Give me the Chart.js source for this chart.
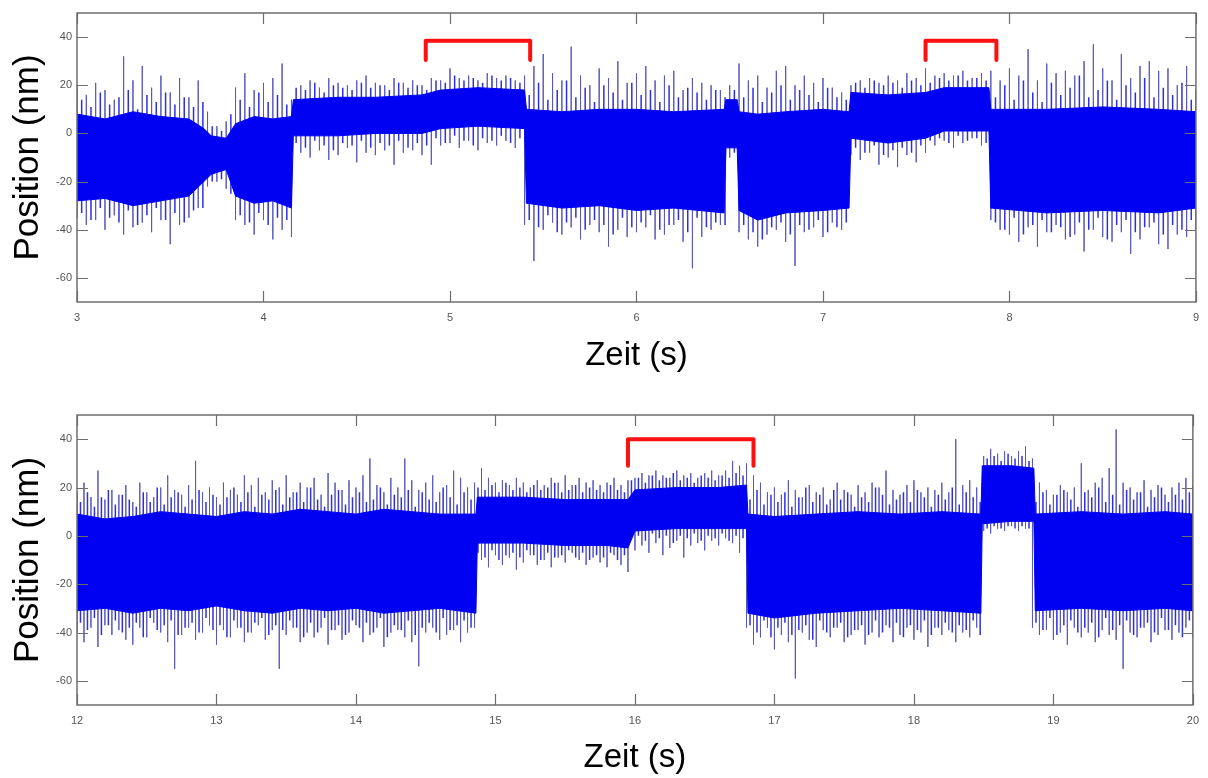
<!DOCTYPE html>
<html>
<head>
<meta charset="utf-8">
<script src="https://cdn.jsdelivr.net/npm/chart.js@4.4.1/dist/chart.umd.min.js"></script>
<style>
  html, body { margin: 0; padding: 0; background: #fff; }
  #wrap { position: relative; width: 1208px; height: 778px; overflow: hidden; }
  #top { position: absolute; left: 0; top: 0; }
  #bottom { position: absolute; left: 0; top: 390px; }
</style>
</head>
<body>
<div id="wrap">
  <canvas id="top" width="1208" height="390"></canvas>
  <canvas id="bottom" width="1208" height="388"></canvas>
</div>
<script>
// ---- shared axis ticks ----
var yTickValues = [-60, -40, -20, 0, 20, 40];
var topXTicks = [3, 4, 5, 6, 7, 8, 9];
var bottomXTicks = [12, 13, 14, 15, 16, 17, 18, 19, 20];

// ---- top trace (3 s .. 9 s) ----
// dense core band: time, upper and lower edge (nm)
var topCoreT  = [3.00, 3.15, 3.30, 3.45, 3.60, 3.68, 3.72, 3.80, 3.85, 3.95, 4.05, 4.15, 4.16, 4.40, 4.60, 4.85, 4.95, 5.15, 5.40, 5.41, 5.60, 5.80, 6.00, 6.20, 6.47, 6.48, 6.54, 6.55, 6.65, 6.80, 7.00, 7.14, 7.15, 7.35, 7.55, 7.65, 7.89, 7.90, 8.20, 8.50, 8.80, 9.00];
var topCoreHi = [8, 6, 9, 7, 6, 2, -1, -2, 4, 7, 6, 7, 14, 15, 15, 16, 18, 19, 18, 10, 9, 10, 10, 9, 10, 14, 14, 9, 8, 9, 10, 9, 17, 16, 17, 19, 19, 10, 10, 11, 10, 9];
var topCoreLo = [-28, -27, -30, -28, -26, -20, -17, -15, -26, -29, -28, -31, -1, -1, 0, 0, 2, 3, 2, -29, -31, -30, -32, -31, -33, -6, -6, -32, -36, -33, -32, -31, -2, -4, -2, 1, 1, -31, -33, -32, -33, -31];
// outer spike extremes, one pair every 0.05 s from 3.00 s
var topSpikeStart = 3.0;
var topSpikeHi = [20, 16, 21, 18, 14, 32, 22, 28, 19, 24, 17, 23, 15, 22, 9, 3, 5, 19, 25, 18,
                  21, 23, 29, 14, 20, 22, 19, 23, 21, 20, 22, 24, 21, 20, 23, 21, 22, 20, 23, 22,
                  27, 23, 24, 22, 25, 23, 24, 22, 24, 28, 33, 25, 22, 36, 24, 20, 27, 23, 30, 21,
                  25, 28, 22, 24, 26, 18, 23, 21, 20, 18, 20, 29, 22, 24, 19, 26, 28, 20, 24, 21,
                  23, 19, 17, 20, 22, 23, 21, 24, 22, 25, 23, 27, 24, 25, 24, 26, 23, 25, 26, 22,
                  27, 24, 35, 22, 29, 25, 26, 24, 30, 37, 27, 22, 33, 23, 28, 30, 26, 27, 20, 28, 18];
var topSpikeLo = [-35, -38, -36, -40, -34, -42, -39, -37, -41, -36, -46, -38, -35, -31, -22, -20, -23, -36, -38, -42,
                  -36, -44, -40, -43, -8, -10, -7, -11, -9, -6, -12, -8, -9, -7, -13, -8, -7, -9, -13, -5,
                  -4, -6, -3, -7, -4, -5, -3, -6, -38, -53, -40, -37, -42, -39, -44, -38, -41, -47, -40, -43,
                  -41, -39, -44, -42, -38, -45, -56, -43, -40, -38, -10, -41, -44, -47, -42, -40, -45, -55, -41, -39,
                  -43, -37, -40, -9, -11, -8, -13, -10, -14, -9, -12, -8, -5, -3, -6, -4, -2, -5, -36, -40,
                  -42, -45, -39, -47, -41, -38, -44, -42, -49, -40, -43, -45, -41, -50, -44, -39, -46, -48, -42, -43, -40];
// smaller excursions just outside the core, every 0.05 s from 3.025 s
var topMidStart = 3.025;
var topMidHi = [14, 11, 17, 12, 15, 18, 10, 16, 13, 17, 12, 15, 11, 13, 3, 1, 8, 14, 11, 17,
                13, 16, 12, 19, 18, 21, 17, 20, 19, 18, 21, 19, 20, 18, 21, 19, 20, 18, 22, 21,
                24, 22, 23, 21, 24, 22, 23, 21, 16, 21, 14, 18, 22, 15, 19, 13, 20, 17, 14, 21,
                16, 18, 13, 20, 15, 19, 17, 14, 18, 15, 18, 15, 19, 13, 17, 20, 14, 18, 16, 13,
                19, 15, 14, 21, 19, 22, 20, 21, 19, 22, 20, 21, 23, 22, 24, 22, 23, 22, 15, 20,
                14, 22, 17, 13, 21, 16, 19, 24, 15, 18, 22, 14, 20, 17, 23, 15, 19, 16, 21, 14];
var topMidLo = [-33, -36, -31, -35, -37, -32, -38, -34, -31, -36, -33, -37, -32, -31, -20, -19, -25, -34, -37, -33,
                -38, -35, -36, -4, -6, -3, -5, -7, -4, -5, -3, -6, -4, -5, -3, -6, -4, -5, -2, -4,
                -1, -3, -5, -2, -3, -1, -4, -2, -36, -39, -34, -41, -37, -35, -40, -36, -38, -42, -35, -39,
                -37, -34, -40, -38, -36, -41, -35, -39, -37, -38, -8, -38, -41, -44, -39, -37, -42, -38, -40, -36,
                -41, -39, -37, -6, -8, -5, -9, -7, -6, -8, -5, -3, -2, -4, -1, -3, -2, -4, -37, -40,
                -35, -42, -38, -36, -41, -39, -43, -37, -40, -35, -44, -38, -36, -41, -39, -37, -42, -38, -40, -36];
var topBrackets = [[4.87, 5.43], [7.55, 7.93]];
var topBracketY = [38.5, 30.5];

// ---- bottom trace (12 s .. 20 s) ----
var botCoreT  = [12.0, 12.2, 12.4, 12.6, 12.8, 13.0, 13.2, 13.4, 13.6, 13.8, 14.0, 14.2, 14.4, 14.6, 14.86, 14.87, 15.2, 15.5, 15.8, 15.95, 16.0, 16.3, 16.6, 16.80, 16.81, 17.0, 17.3, 17.6, 17.9, 18.2, 18.48, 18.49, 18.7, 18.86, 18.87, 19.2, 19.5, 19.8, 20.0];
var botCoreHi = [9, 7, 8, 10, 9, 8, 10, 9, 11, 10, 9, 11, 10, 9, 9, 16, 16, 15, 15, 15, 19, 20, 20, 21, 9, 8, 9, 10, 9, 10, 9, 29, 29, 28, 9, 10, 9, 10, 9];
var botCoreLo = [-31, -30, -32, -30, -31, -29, -31, -32, -30, -31, -30, -32, -31, -30, -32, -3, -3, -4, -4, -5, 2, 3, 3, 3, -32, -34, -32, -31, -30, -31, -32, 5, 6, 6, -31, -30, -31, -30, -31];
var botSpikeStart = 12.0;
var botSpikeHi = [18, 22, 16, 27, 15, 19, 17, 21, 14, 22, 18, 16, 20, 25, 19, 17, 21, 31, 18, 20,
                  16, 22, 19, 17, 25, 21, 24, 18, 23, 20, 25, 18, 22, 20, 24, 17, 26, 22, 19, 23,
                  20, 25, 32, 21, 18, 24, 20, 32, 23, 19, 22, 25, 18, 21, 27, 24, 20, 22, 28, 24,
                  22, 23, 21, 24, 22, 20, 23, 21, 24, 22, 25, 21, 24, 22, 23, 21, 22, 24, 21, 23,
                  24, 26, 25, 27, 25, 24, 27, 25, 26, 24, 26, 27, 25, 27, 31, 29, 30, 25, 22, 18,
                  20, 17, 23, 19, 16, 21, 18, 20, 15, 22, 19, 17, 21, 18, 22, 20, 27, 19, 17, 21,
                  23, 18, 20, 19, 22, 18, 40, 21, 23, 20, 33, 36, 34, 35, 33, 35, 37, 32, 22, 19,
                  17, 21, 18, 20, 30, 19, 22, 24, 28, 44, 22, 20, 18, 23, 19, 21, 17, 20, 22, 24, 21];
var botSpikeLo = [-40, -44, -38, -46, -37, -41, -39, -43, -45, -38, -42, -36, -40, -44, -55, -41, -38, -43, -40, -37,
                  -45, -39, -42, -38, -44, -40, -37, -43, -39, -55, -41, -38, -44, -40, -42, -38, -45, -39, -43, -40,
                  -37, -44, -41, -38, -46, -40, -39, -42, -44, -54, -40, -38, -43, -41, -39, -44, -40, -38, -10, -13,
                  -8, -12, -9, -14, -11, -8, -12, -10, -13, -9, -11, -7, -10, -12, -9, -11, -13, -8, -12, -15,
                  -6, -4, -7, -3, -8, -5, -2, -9, -4, -3, -6, -2, -4, -1, -3, -7, -38, -45, -42, -38,
                  -47, -41, -44, -59, -40, -43, -46, -39, -42, -38, -44, -41, -39, -45, -40, -42, -37, -44, -41, -38,
                  -43, -40, -46, -38, -41, -39, -44, -40, -42, -38, 2, 1, 3, 2, 4, 2, 3, -38, -41, -39,
                  -43, -40, -45, -38, -42, -40, -44, -39, -41, -43, -55, -40, -42, -38, -44, -41, -39, -43, -40, -38, -42];
var botMidStart = 12.025;
var botMidHi = [14, 18, 12, 16, 19, 13, 17, 15, 12, 18, 14, 20, 13, 16, 18, 12, 15, 19, 14, 17,
                13, 16, 20, 14, 18, 12, 17, 15, 19, 13, 16, 18, 14, 20, 15, 12, 17, 19, 13, 16,
                18, 14, 15, 20, 13, 17, 16, 19, 12, 18, 15, 14, 20, 16, 13, 18, 15,
                20, 19, 21, 18, 22, 19, 20, 18, 21, 19, 20, 22, 18, 19, 21, 18, 20, 19, 18, 21, 19, 18,
                23, 24, 22, 25, 23, 24, 26, 23, 24, 22, 25, 24, 23, 25, 24, 26, 25,
                15, 19, 13, 17, 14, 18, 12, 16, 20, 14, 17, 13, 19, 15, 18, 12, 16, 14, 20, 17,
                13, 15, 18, 14, 19, 16, 12, 17, 15, 20, 13, 18, 16, 14,
                32, 33, 31, 34, 32, 33, 31,
                14, 18, 13, 17, 19, 15, 12, 18, 16, 20, 14, 17, 13, 19, 15, 18, 12, 16, 20, 14, 17, 15, 18];
var botMidLo = [-36, -39, -34, -41, -37, -35, -40, -38, -36, -42, -34, -39, -37, -35, -41, -38, -36, -40, -34, -39,
                -37, -42, -35, -38, -40, -36, -34, -41, -37, -39, -35, -38, -42, -36, -40, -34, -39, -37, -41, -35,
                -38, -36, -40, -34, -42, -37, -39, -35, -41, -38, -36, -40, -34, -39, -37, -35, -38,
                -7, -9, -6, -10, -8, -7, -9, -6, -8, -10, -7, -9, -8, -6, -9, -7, -10, -8, -9, -7, -10, -8,
                -1, 0, -2, 1, -1, 0, -3, 0, -1, 1, -2, 0, -1, 1, -2, 0, -1,
                -37, -40, -35, -42, -38, -36, -41, -39, -37, -43, -35, -40, -38, -36, -42, -39, -37, -41, -35, -40,
                -38, -36, -42, -37, -39, -35, -41, -38, -36, -40, -37, -39, -35, -41,
                3, 4, 3, 4, 3, 4, 3,
                -36, -39, -34, -41, -37, -35, -40, -38, -36, -42, -34, -39, -37, -35, -41, -38, -36, -40, -34, -39, -37, -42, -35];
var botBrackets = [[15.95, 16.85]];
var botBracketY = [40, 29];

var spikeStep = 0.05;

function corePoints(t, v) {
    return t.map((tt, i) => ({ x: tt, y: v[i] }));
}

// each sample becomes one vertical stroke from lo to hi, separated by gaps
function spikePoints(start, hi, lo) {
    var pts = [];
    hi.forEach((h, i) => {
        var t = +(start + i * spikeStep).toFixed(3);
        pts.push({ x: t, y: h });
        pts.push({ x: t, y: lo[i] });
        pts.push({ x: t, y: null });
    });
    return pts;
}

function bracketSets(list, yy) {
    return list.map(b => ({
        data: [{ x: b[0], y: yy[1] }, { x: b[0], y: yy[0] }, { x: b[1], y: yy[0] }, { x: b[1], y: yy[1] }],
        borderColor: '#ff1010',
        borderWidth: 4,
        borderJoinStyle: 'round',
        borderCapStyle: 'round',
        pointRadius: 0,
        fill: false,
        order: 0
    }));
}

// inward tick marks on all four sides plus the box, like the original plot
var boxPlugin = {
    id: 'boxTicks',
    afterDraw(chart) {
        const { ctx, chartArea: { left, right, top, bottom }, scales: { x, y } } = chart;
        ctx.save();
        ctx.strokeStyle = '#6e6e6e';
        ctx.lineWidth = 1.2;
        ctx.beginPath();
        x.ticks.forEach(tk => {
            const px = Math.round(x.getPixelForValue(tk.value)) + 0.5;
            ctx.moveTo(px, bottom); ctx.lineTo(px, bottom - 11);
            ctx.moveTo(px, top); ctx.lineTo(px, top + 11);
        });
        y.ticks.forEach(tk => {
            const py = Math.round(y.getPixelForValue(tk.value)) + 0.5;
            ctx.moveTo(left, py); ctx.lineTo(left + 11, py);
            ctx.moveTo(right, py); ctx.lineTo(right - 11, py);
        });
        ctx.stroke();
        ctx.lineWidth = 1.5;
        ctx.strokeRect(left, top, right - left, bottom - top);
        ctx.restore();
    }
};

function makeChart(canvasId, o) {
    var el = document.getElementById(canvasId).getContext('2d');
    return new Chart(el, {
        type: 'line',
        data: {
            datasets: [
                {
                    data: corePoints(o.coreT, o.coreHi),
                    borderColor: '#0000f2', backgroundColor: '#0000f2', borderWidth: 1,
                    pointRadius: 0, fill: '+1', order: 1
                },
                {
                    data: corePoints(o.coreT, o.coreLo),
                    borderColor: '#0000f2', borderWidth: 1,
                    pointRadius: 0, fill: false, order: 2
                },
                {
                    data: spikePoints(o.midStart, o.midHi, o.midLo),
                    borderColor: 'rgba(25, 25, 215, 0.9)', borderWidth: 1.5,
                    pointRadius: 0, fill: false, spanGaps: false, order: 3
                },
                {
                    data: spikePoints(o.spikeStart, o.spikeHi, o.spikeLo),
                    borderColor: 'rgba(85, 85, 185, 0.75)', borderWidth: 1,
                    pointRadius: 0, fill: false, spanGaps: false, order: 4
                }
            ].concat(bracketSets(o.brackets, o.bracketY))
        },
        options: {
            responsive: false,
            animation: false,
            devicePixelRatio: 1,
            layout: { padding: o.padding },
            plugins: { legend: { display: false }, tooltip: { enabled: false } },
            elements: { line: { tension: 0 } },
            scales: {
                x: {
                    type: 'linear',
                    min: o.xTicks[0],
                    max: o.xTicks[o.xTicks.length - 1],
                    afterBuildTicks: s => { s.ticks = o.xTicks.map(v => ({ value: v })); },
                    afterFit: s => { s.height = o.xHeight; },
                    grid: { display: false, drawTicks: false },
                    border: { display: false },
                    ticks: { padding: 9, color: '#555', font: { family: 'Liberation Sans, Arial', size: 11 } },
                    title: {
                        display: true, text: 'Zeit (s)', color: '#000',
                        font: { family: 'Liberation Sans, Arial', size: 33 },
                        padding: { top: 0, bottom: o.xTitlePad }
                    }
                },
                y: {
                    min: -70,
                    max: 50,
                    afterBuildTicks: s => { s.ticks = yTickValues.map(v => ({ value: v })); },
                    afterFit: s => { s.width = 77; },
                    grid: { display: false, drawTicks: false },
                    border: { display: false },
                    ticks: { padding: 5, color: '#555', font: { family: 'Liberation Sans, Arial', size: 11 } },
                    title: {
                        display: true, text: 'Position (nm)', color: '#000',
                        font: { family: 'Liberation Sans, Arial', size: 35 },
                        padding: { top: 7, bottom: 0 }
                    }
                }
            }
        },
        plugins: [boxPlugin]
    });
}

makeChart('top', {
    coreT: topCoreT, coreHi: topCoreHi, coreLo: topCoreLo,
    spikeStart: topSpikeStart, spikeHi: topSpikeHi, spikeLo: topSpikeLo,
    midStart: topMidStart, midHi: topMidHi, midLo: topMidLo,
    brackets: topBrackets, bracketY: topBracketY,
    xTicks: topXTicks,
    padding: { top: 13, right: 10, left: 0, bottom: 0 },
    xHeight: 88, xTitlePad: 14
});

makeChart('bottom', {
    coreT: botCoreT, coreHi: botCoreHi, coreLo: botCoreLo,
    spikeStart: botSpikeStart, spikeHi: botSpikeHi, spikeLo: botSpikeLo,
    midStart: botMidStart, midHi: botMidHi, midLo: botMidLo,
    brackets: botBrackets, bracketY: botBracketY,
    xTicks: bottomXTicks,
    padding: { top: 25, right: 8, left: 0, bottom: 0 },
    xHeight: 73, xTitlePad: 0
});
</script>
</body>
</html>
